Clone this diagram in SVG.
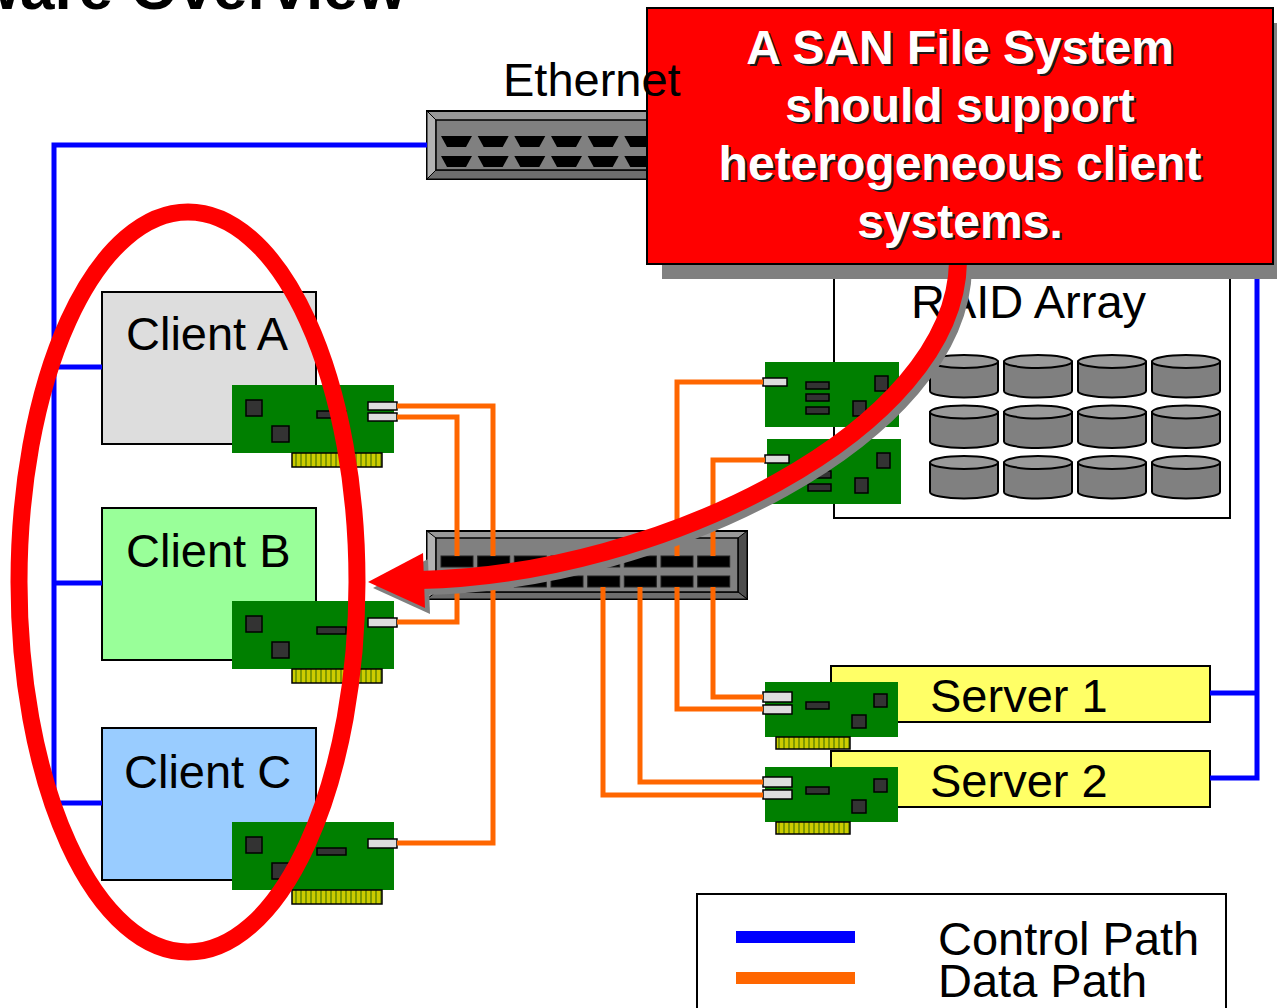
<svg xmlns="http://www.w3.org/2000/svg" width="1277" height="1008" viewBox="0 0 1277 1008">
  <defs>
    <style>
      .lbl{font-family:"Liberation Sans",Arial,sans-serif;font-size:47px;fill:#000}
      .box{stroke:#000;stroke-width:2}
      .ctl{fill:none;stroke:#0000FF;stroke-width:5}
      .dat{fill:none;stroke:#FF6600;stroke-width:5}
      .chip{fill:#333;stroke:#000;stroke-width:1.5}
      .port{fill:#DDD;stroke:#000;stroke-width:1.5}
      .pcb{fill:#007F00}
      .fing{fill:url(#fingers);stroke:#000;stroke-width:1.5}
      .disk{fill:#808080;stroke:#000;stroke-width:2}
      .disktop{fill:#999;stroke:#000;stroke-width:2}
      .sw-frame{fill:#999;stroke:#000;stroke-width:2}
      .sw-face{fill:#808080;stroke:#000;stroke-width:1.5}
      .sw-port{fill:#000;stroke:#222;stroke-width:1}
      .callout{font-family:"Liberation Sans",Arial,sans-serif;font-size:48px;font-weight:bold;text-anchor:middle}
    </style>
    <pattern id="fingers" patternUnits="userSpaceOnUse" width="5" height="20">
      <rect width="5" height="20" fill="#CCCC00"/>
      <rect x="3" width="2" height="20" fill="#7F9900"/>
    </pattern>
    <!-- host bus adapter, card edge down, ports to the right -->
    <g id="hba-base">
      <rect class="pcb" x="0" y="0" width="162" height="68"/>
      <rect class="fing" x="60" y="68" width="90" height="14"/>
      <rect class="chip" x="14" y="15" width="16" height="16"/>
      <rect class="chip" x="40" y="41" width="17" height="16"/>
      <rect class="chip" x="85" y="26" width="29" height="7"/>
    </g>
    <g id="hba-dual">
      <use href="#hba-base"/>
      <rect class="port" x="136" y="17" width="29" height="8"/>
      <rect class="port" x="136" y="28" width="29" height="8"/>
    </g>
    <g id="hba-single">
      <use href="#hba-base"/>
      <rect class="port" x="136" y="17" width="29" height="9"/>
    </g>
    <!-- server adapter, ports to the left -->
    <g id="srv-hba">
      <rect class="pcb" x="0" y="0" width="133" height="55"/>
      <rect class="fing" x="11" y="55" width="74" height="12"/>
      <rect class="port" x="-2" y="10" width="29" height="10"/>
      <rect class="port" x="-2" y="23" width="29" height="9"/>
      <rect class="chip" x="41" y="20" width="23" height="7"/>
      <rect class="chip" x="109" y="12" width="13" height="13"/>
      <rect class="chip" x="87" y="33" width="14" height="13"/>
    </g>
    <!-- RAID controller card -->
    <g id="raid-hba">
      <rect class="pcb" x="0" y="0" width="134" height="65"/>
      <rect class="port" x="-2" y="16" width="24" height="8"/>
      <rect class="chip" x="41" y="20" width="23" height="7"/>
      <rect class="chip" x="41" y="32" width="23" height="7"/>
      <rect class="chip" x="41" y="45" width="23" height="7"/>
      <rect class="chip" x="110" y="14" width="13" height="15"/>
      <rect class="chip" x="88" y="39" width="13" height="15"/>
    </g>
    <g id="disk">
      <path class="disk" d="M0,6.5 V36 A34,6.5 0 0 0 68,36 V6.5 Z"/>
      <ellipse class="disktop" cx="34" cy="6.5" rx="34" ry="6.5"/>
    </g>
    <path id="rj45" d="M0,0 h31 l-6,11 h-19 z" fill="#000"/>
    <rect id="fcport" width="32" height="11" class="sw-port"/>
  </defs>

  <rect width="1277" height="1008" fill="#fff"/>

  <!-- title -->
  <text x="406" y="9" font-family="'Liberation Sans',Arial,sans-serif" font-size="62" font-weight="bold" text-anchor="end">Software Overview</text>

  <!-- Ethernet switch -->
  <g id="ethernet-switch">
    <rect class="sw-frame" x="427" y="111" width="320" height="68"/>
    <polygon points="427,111 436,120 436,170 427,179" fill="#B3B3B3" stroke="#000" stroke-width="1"/>
    <polygon points="747,111 738,120 738,170 747,179" fill="#4D4D4D" stroke="#000" stroke-width="1"/>
    <polygon points="427,179 436,170 738,170 747,179" fill="#6E6E6E" stroke="#000" stroke-width="1"/>
    <rect class="sw-face" x="436" y="120" width="302" height="50"/>
    <use href="#rj45" x="441" y="136"/><use href="#rj45" x="477.7" y="136"/><use href="#rj45" x="514.3" y="136"/><use href="#rj45" x="551" y="136"/>
    <use href="#rj45" x="587.7" y="136"/><use href="#rj45" x="624.3" y="136"/><use href="#rj45" x="661" y="136"/><use href="#rj45" x="697.7" y="136"/>
    <use href="#rj45" x="441" y="156"/><use href="#rj45" x="477.7" y="156"/><use href="#rj45" x="514.3" y="156"/><use href="#rj45" x="551" y="156"/>
    <use href="#rj45" x="587.7" y="156"/><use href="#rj45" x="624.3" y="156"/><use href="#rj45" x="661" y="156"/><use href="#rj45" x="697.7" y="156"/>
  </g>

  <!-- Fibre Channel switch -->
  <g id="fc-switch">
    <rect class="sw-frame" x="427" y="531" width="320" height="68"/>
    <polygon points="427,531 436,538 436,592 427,599" fill="#B3B3B3" stroke="#000" stroke-width="1"/>
    <polygon points="747,531 738,538 738,592 747,599" fill="#4D4D4D" stroke="#000" stroke-width="1"/>
    <polygon points="427,599 436,592 738,592 747,599" fill="#6E6E6E" stroke="#000" stroke-width="1"/>
    <rect class="sw-face" x="436" y="538" width="302" height="54"/>
    <use href="#fcport" x="441" y="556"/><use href="#fcport" x="477.7" y="556"/><use href="#fcport" x="514.3" y="556"/><use href="#fcport" x="551" y="556"/>
    <use href="#fcport" x="587.7" y="556"/><use href="#fcport" x="624.3" y="556"/><use href="#fcport" x="661" y="556"/><use href="#fcport" x="697.7" y="556"/>
    <use href="#fcport" x="441" y="576"/><use href="#fcport" x="477.7" y="576"/><use href="#fcport" x="514.3" y="576"/><use href="#fcport" x="551" y="576"/>
    <use href="#fcport" x="587.7" y="576"/><use href="#fcport" x="624.3" y="576"/><use href="#fcport" x="661" y="576"/><use href="#fcport" x="697.7" y="576"/>
  </g>

  <!-- clients -->
  <g id="client-a">
    <rect class="box" x="102" y="292" width="214" height="152" fill="#DDDDDD"/>
    <text class="lbl" x="126" y="350" font-size="48">Client A</text>
    <use href="#hba-dual" x="232" y="385"/>
  </g>
  <g id="client-b">
    <rect class="box" x="102" y="508" width="214" height="152" fill="#99FF99"/>
    <text class="lbl" x="126" y="567" font-size="48">Client B</text>
    <use href="#hba-single" x="232" y="601"/>
  </g>
  <g id="client-c">
    <rect class="box" x="102" y="728" width="214" height="152" fill="#99CCFF"/>
    <text class="lbl" x="124" y="788" font-size="48">Client C</text>
    <use href="#hba-single" x="232" y="822"/>
  </g>

  <!-- RAID array -->
  <g id="raid-array">
    <rect class="box" x="834" y="250" width="396" height="268" fill="#fff"/>
    <text class="lbl" x="911" y="318">RAID Array</text>
    <use href="#disk" x="930" y="355"/><use href="#disk" x="1004" y="355"/><use href="#disk" x="1078" y="355"/><use href="#disk" x="1152" y="355"/>
    <use href="#disk" x="930" y="405.5"/><use href="#disk" x="1004" y="405.5"/><use href="#disk" x="1078" y="405.5"/><use href="#disk" x="1152" y="405.5"/>
    <use href="#disk" x="930" y="456"/><use href="#disk" x="1004" y="456"/><use href="#disk" x="1078" y="456"/><use href="#disk" x="1152" y="456"/>
    <use href="#raid-hba" x="765" y="362"/>
    <use href="#raid-hba" x="767" y="439"/>
  </g>

  <!-- servers -->
  <g id="server-1">
    <rect class="box" x="831" y="666" width="379" height="56" fill="#FFFF66"/>
    <text class="lbl" x="930" y="712" font-size="46">Server 1</text>
    <use href="#srv-hba" x="765" y="682"/>
  </g>
  <g id="server-2">
    <rect class="box" x="831" y="751" width="379" height="56" fill="#FFFF66"/>
    <text class="lbl" x="930" y="797" font-size="46">Server 2</text>
    <use href="#srv-hba" x="765" y="767"/>
  </g>

  <!-- connectors -->
  <g id="connectors">
    <!-- control path (Ethernet) -->
    <path class="ctl" d="M427,145 H54 V803 H102"/>
    <path class="ctl" d="M54,367 H102"/>
    <path class="ctl" d="M54,583 H102"/>
    <path class="ctl" d="M747,145 H1257 V778 H1210"/>
    <path class="ctl" d="M1210,693 H1257"/>
    <!-- data path (Fibre Channel) -->
    <path class="dat" d="M397,406 H493 V556"/>
    <path class="dat" d="M397,417 H457 V556"/>
    <path class="dat" d="M397,622 H457 V587"/>
    <path class="dat" d="M397,843 H493 V587"/>
    <path class="dat" d="M763,382 H677 V556"/>
    <path class="dat" d="M765,460 H713 V556"/>
    <path class="dat" d="M763,697 H713 V587"/>
    <path class="dat" d="M763,709 H677 V587"/>
    <path class="dat" d="M763,782 H640 V587"/>
    <path class="dat" d="M763,795 H603 V587"/>
  </g>

  <!-- highlight ring round the clients -->
  <ellipse id="client-ring" cx="188" cy="582" rx="169" ry="370" fill="none" stroke="#FF0000" stroke-width="17"/>

  <!-- callout -->
  <g id="callout">
    <rect x="662" y="23" width="630" height="256" fill="#808080"/>
    <g transform="translate(5,6)" fill="#808080">
      <path d="M958,262 C955,430 660,575 420,580" fill="none" stroke="#808080" stroke-width="18"/>
      <polygon points="368,582 423,553 425,608"/>
    </g>
    <path d="M958,262 C955,430 660,575 420,580" fill="none" stroke="#FF0000" stroke-width="18"/>
    <polygon points="368,582 423,553 425,608" fill="#FF0000"/>
    <rect x="647" y="8" width="626" height="256" fill="#FF0000" stroke="#000" stroke-width="2"/>
    <g class="callout" fill="#1A1A1A" transform="translate(2,2)">
      <text x="960" y="64">A SAN File System</text>
      <text x="960" y="122">should support</text>
      <text x="960" y="180">heterogeneous client</text>
      <text x="960" y="238">systems.</text>
    </g>
    <g class="callout" fill="#FFFFFF">
      <text x="960" y="64">A SAN File System</text>
      <text x="960" y="122">should support</text>
      <text x="960" y="180">heterogeneous client</text>
      <text x="960" y="238">systems.</text>
    </g>
  </g>

  <text class="lbl" x="503" y="96">Ethernet</text>

  <!-- legend -->
  <g id="legend">
    <rect class="box" x="697" y="894" width="529" height="130" fill="#fff"/>
    <rect x="736" y="931" width="119" height="12" fill="#0000FF"/>
    <rect x="736" y="972" width="119" height="12" fill="#FF6600"/>
    <text class="lbl" x="938" y="955" font-size="48">Control Path</text>
    <text class="lbl" x="938" y="997" font-size="48">Data Path</text>
  </g>
</svg>
